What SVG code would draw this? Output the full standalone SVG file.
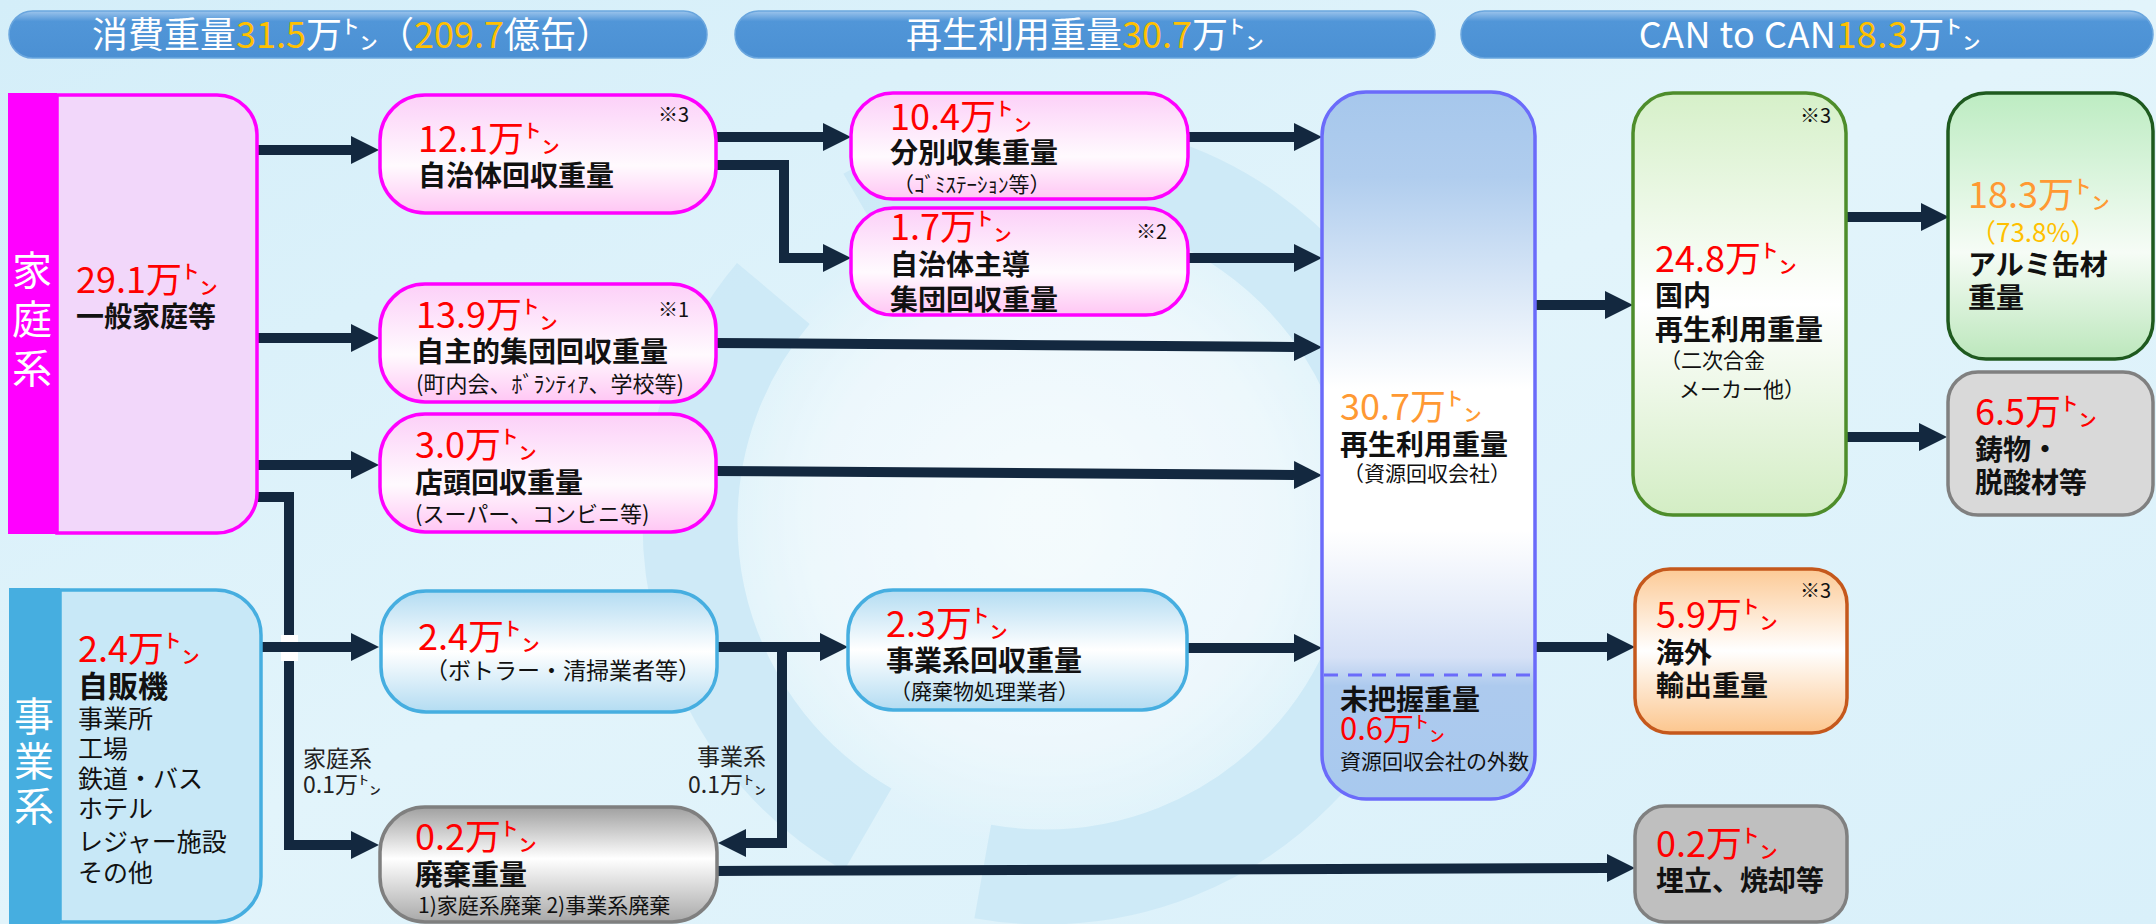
<svg xmlns="http://www.w3.org/2000/svg" width="2156" height="924" viewBox="0 0 2156 924">
<style>
text{font-family:"Noto Sans CJK JP","Noto Sans",sans-serif}
.num{font-size:36px;fill:#ff0000;font-weight:400}
.org{font-size:36px;fill:#ff9933;font-weight:400}
.lbl{font-size:28px;font-weight:700;fill:#111}
.sub{font-size:22px;fill:#111;font-weight:400}
.reg{font-size:25px;fill:#111;font-weight:400}
.note{font-size:20px;fill:#111}
.hdr{font-size:36px;fill:#ffffff}
.yel{fill:#ffc000}
.vt{font-size:40px;fill:#ffffff;writing-mode:vertical-rl}
.cl{font-size:23px;fill:#222}
.conn{fill:none;stroke:#13283f;stroke-width:10;marker-end:url(#ah)}
.pink{fill:url(#gPink);stroke:#ff00ff;stroke-width:3.5}
.blu{fill:url(#gBlue);stroke:#46aee0;stroke-width:3.5}
</style>
<defs>
<linearGradient id="bg" x1="0" y1="0" x2="1" y2="1">
<stop offset="0" stop-color="#d4eef9"/><stop offset="0.5" stop-color="#e2f4fb"/><stop offset="1" stop-color="#d9f0fa"/>
</linearGradient>
<radialGradient id="glow" cx="0.5" cy="0.5" r="0.5">
<stop offset="0" stop-color="#ffffff" stop-opacity="0.95"/><stop offset="0.7" stop-color="#ffffff" stop-opacity="0.6"/><stop offset="1" stop-color="#ffffff" stop-opacity="0"/>
</radialGradient>
<linearGradient id="gHdr" x1="0" y1="0" x2="0" y2="1">
<stop offset="0" stop-color="#9cc4ec"/><stop offset="0.22" stop-color="#5196d8"/><stop offset="1" stop-color="#4b90d3"/>
</linearGradient>
<linearGradient id="gPink" x1="0" y1="0" x2="0" y2="1">
<stop offset="0" stop-color="#fcd0f8"/><stop offset="0.6" stop-color="#fffafe"/><stop offset="1" stop-color="#ffc6f4"/>
</linearGradient>
<linearGradient id="gBlue" x1="0" y1="0" x2="0" y2="1">
<stop offset="0" stop-color="#b3dcf2"/><stop offset="0.5" stop-color="#ffffff"/><stop offset="1" stop-color="#b3dcf2"/>
</linearGradient>
<linearGradient id="gGray" x1="0" y1="0" x2="0" y2="1">
<stop offset="0" stop-color="#a0a0a0"/><stop offset="0.45" stop-color="#ffffff"/><stop offset="1" stop-color="#a8a8a8"/>
</linearGradient>
<linearGradient id="gBig" x1="0" y1="0" x2="0" y2="1">
<stop offset="0" stop-color="#a6c7ec"/><stop offset="0.12" stop-color="#b0cdee"/><stop offset="0.42" stop-color="#ffffff"/><stop offset="0.62" stop-color="#ffffff"/><stop offset="0.8" stop-color="#d6e1f6"/><stop offset="0.84" stop-color="#adcaee"/><stop offset="1" stop-color="#a8c9ee"/>
</linearGradient>
<linearGradient id="gGreen1" x1="0" y1="0" x2="0" y2="1">
<stop offset="0" stop-color="#d6f0c9"/><stop offset="0.5" stop-color="#ffffff"/><stop offset="1" stop-color="#d3edc4"/>
</linearGradient>
<linearGradient id="gGreen2" x1="0" y1="0" x2="0" y2="1">
<stop offset="0" stop-color="#bdecc2"/><stop offset="0.6" stop-color="#f6fcf6"/><stop offset="1" stop-color="#bce7bc"/>
</linearGradient>
<linearGradient id="gOrange" x1="0" y1="0" x2="0" y2="1">
<stop offset="0" stop-color="#fcca96"/><stop offset="0.5" stop-color="#ffffff"/><stop offset="1" stop-color="#fcc68e"/>
</linearGradient>
<marker id="ah" markerUnits="userSpaceOnUse" markerWidth="28" markerHeight="28" refX="0" refY="14" orient="auto">
<path d="M0,0 L28,14 L0,28 Z" fill="#13283f"/>
</marker>
</defs>

<rect x="0" y="0" width="2156" height="924" fill="url(#bg)"/>
<g id="watermark" opacity="0.7">
<circle cx="1045" cy="522" r="330" fill="url(#glow)"/>
<circle cx="1045" cy="522" r="355" fill="none" stroke="#c8e7f6" stroke-width="95" stroke-dasharray="620 123"/>
</g>

<g id="header1">
<rect x="9" y="11" width="698" height="47" rx="23.5" fill="url(#gHdr)" stroke="#6aa6de" stroke-width="1.5"/>
<text class="hdr" x="352" y="48" text-anchor="middle">消費重量<tspan class="yel">31.5</tspan>万㌧（<tspan class="yel">209.7</tspan>億缶）</text>
</g>
<g id="header2">
<rect x="735" y="11" width="700" height="47" rx="23.5" fill="url(#gHdr)" stroke="#6aa6de" stroke-width="1.5"/>
<text class="hdr" x="1085" y="48" text-anchor="middle">再生利用重量<tspan class="yel">30.7</tspan>万㌧</text>
</g>
<g id="header3">
<rect x="1461" y="11" width="692" height="47" rx="23.5" fill="url(#gHdr)" stroke="#6aa6de" stroke-width="1.5"/>
<text class="hdr" x="1810" y="48" text-anchor="middle" letter-spacing="0.5">CAN to CAN<tspan class="yel">18.3</tspan>万㌧</text>
</g>

<g id="connectors">
<path class="conn" d="M255,150 H351"/>
<path class="conn" d="M255,338 H351"/>
<path class="conn" d="M255,465 H351"/>
<path class="conn" d="M250,497 H289 V845 H351"/>
<rect x="281" y="635" width="17" height="26" fill="#ffffff"/>
<path class="conn" d="M259,647 H351"/>
<path class="conn" d="M714,137 H823"/>
<path class="conn" d="M714,165 H784 V258 H823"/>
<path class="conn" d="M1186,137 H1294"/>
<path class="conn" d="M1186,258 H1294"/>
<path class="conn" d="M714,343 L1294,347"/>
<path class="conn" d="M714,471 L1294,475"/>
<path class="conn" d="M714,647 H820"/>
<path class="conn" d="M782,643 V843 H746"/>
<path class="conn" d="M1185,648 H1294"/>
<path class="conn" d="M714,871 L1607,868"/>
<path class="conn" d="M1533,305 H1605"/>
<path class="conn" d="M1533,647 H1607"/>
<path class="conn" d="M1844,217 H1921"/>
<path class="conn" d="M1844,437 H1919"/>
<text class="cl" x="303" y="767">家庭系<tspan x="303" y="793">0.1万㌧</tspan></text>
<text class="cl" x="766" y="765" text-anchor="end">事業系<tspan x="766" y="793">0.1万㌧</tspan></text>
</g>

<g id="node-household">
<path d="M57,95 H217 A40,40 0 0 1 257,135 V493 A40,40 0 0 1 217,533 H57 Z" fill="#f2d7fa" stroke="#ff00ff" stroke-width="3.5"/>
<rect x="8" y="93" width="49" height="441" fill="#ff00ff"/>
<text class="vt" x="32" y="250" letter-spacing="9">家庭系</text>
<text x="76" y="293"><tspan class="num">29.1万㌧</tspan><tspan class="lbl" x="76" y="327">一般家庭等</tspan></text>
</g>

<g id="node-business">
<path d="M60,590 H216 A45,45 0 0 1 261,635 V877 A45,45 0 0 1 216,922 H60 Z" fill="#c8e8f7" stroke="#46aee0" stroke-width="3.5"/>
<rect x="9" y="588" width="51" height="336" fill="#46aee0"/>
<text class="vt" x="34" y="696" letter-spacing="5">事業系</text>
<text x="78" y="662"><tspan class="num">2.4万㌧</tspan><tspan class="lbl" x="78" y="697" style="font-size:30px">自販機</tspan><tspan class="reg" x="78" y="728">事業所</tspan><tspan class="reg" x="78" y="758">工場</tspan><tspan class="reg" x="78" y="788">鉄道・バス</tspan><tspan class="reg" x="78" y="818">ホテル</tspan><tspan class="reg" x="78" y="851">レジャー施設</tspan><tspan class="reg" x="78" y="882">その他</tspan></text>
</g>

<g id="node-municipal">
<rect class="pink" x="380" y="95" width="336" height="118" rx="45"/>
<text x="418" y="152"><tspan class="num">12.1万㌧</tspan><tspan class="lbl" x="418" y="186">自治体回収重量</tspan></text>
<text class="note" x="658" y="122">※3</text>
</g>
<g id="node-group">
<rect class="pink" x="380" y="284" width="336" height="118" rx="45"/>
<text x="416" y="328"><tspan class="num">13.9万㌧</tspan><tspan class="lbl" x="416" y="362">自主的集団回収重量</tspan><tspan class="sub" x="416" y="392">(町内会、ﾎﾞﾗﾝﾃｨｱ、学校等)</tspan></text>
<text class="note" x="658" y="317">※1</text>
</g>
<g id="node-store">
<rect class="pink" x="380" y="414" width="336" height="118" rx="45"/>
<text x="415" y="458"><tspan class="num">3.0万㌧</tspan><tspan class="lbl" x="415" y="493">店頭回収重量</tspan><tspan class="sub" x="415" y="522">(スーパー、コンビニ等)</tspan></text>
</g>
<g id="node-bottler">
<rect class="blu" x="381" y="591" width="336" height="121" rx="45"/>
<text x="418" y="650"><tspan class="num">2.4万㌧</tspan><tspan class="sub" x="425" y="679" style="font-size:23px">（ボトラー・清掃業者等）</tspan></text>
</g>
<g id="node-waste">
<rect x="380" y="807" width="337" height="115" rx="45" fill="url(#gGray)" stroke="#7f7f7f" stroke-width="3.5"/>
<text x="415" y="850"><tspan class="num">0.2万㌧</tspan><tspan class="lbl" x="415" y="885">廃棄重量</tspan><tspan class="sub" x="418" y="913" style="font-size:21px">1)家庭系廃棄 2)事業系廃棄</tspan></text>
</g>

<g id="node-sorted">
<rect class="pink" x="851" y="93" width="337" height="106" rx="42"/>
<text x="890" y="130"><tspan class="num">10.4万㌧</tspan><tspan class="lbl" x="890" y="163">分別収集重量</tspan><tspan class="sub" x="893" y="192" style="font-size:21px">（ｺﾞﾐｽﾃｰｼｮﾝ等）</tspan></text>
</g>
<g id="node-muni-group">
<rect class="pink" x="851" y="208" width="337" height="107" rx="42"/>
<text x="890" y="240"><tspan class="num">1.7万㌧</tspan><tspan class="lbl" x="890" y="275">自治体主導</tspan><tspan class="lbl" x="890" y="310">集団回収重量</tspan></text>
<text class="note" x="1136" y="239">※2</text>
</g>
<g id="node-bizcollect">
<rect class="blu" x="848" y="590" width="339" height="120" rx="45"/>
<text x="886" y="637"><tspan class="num">2.3万㌧</tspan><tspan class="lbl" x="886" y="671">事業系回収重量</tspan><tspan class="sub" x="890" y="699" style="font-size:21px">（廃棄物処理業者）</tspan></text>
</g>

<g id="node-recycler">
<rect x="1322" y="92" width="213" height="707" rx="44" fill="url(#gBig)" stroke="#6b6bfa" stroke-width="3.5"/>
<line x1="1324" y1="675" x2="1533" y2="675" stroke="#6b6bfa" stroke-width="3" stroke-dasharray="14 10"/>
<text x="1340" y="420"><tspan class="org">30.7万㌧</tspan><tspan class="lbl" x="1340" y="455">再生利用重量</tspan><tspan class="sub" x="1343" y="481" style="font-size:21px">（資源回収会社）</tspan></text>
<text x="1340" y="710"><tspan class="lbl">未把握重量</tspan><tspan class="num" x="1340" y="740" style="font-size:31px">0.6万㌧</tspan><tspan class="sub" x="1340" y="769" style="font-size:21px">資源回収会社の外数</tspan></text>
</g>

<g id="node-domestic">
<rect x="1633" y="93" width="213" height="422" rx="40" fill="url(#gGreen1)" stroke="#4e8d2b" stroke-width="3.5"/>
<text class="note" x="1800" y="123">※3</text>
<text x="1655" y="272"><tspan class="num">24.8万㌧</tspan><tspan class="lbl" x="1655" y="306">国内</tspan><tspan class="lbl" x="1655" y="340">再生利用重量</tspan><tspan class="sub" x="1660" y="368" style="font-size:21px">（二次合金</tspan><tspan class="sub" x="1679" y="397" style="font-size:21px">メーカー他）</tspan></text>
</g>
<g id="node-export">
<rect x="1635" y="569" width="212" height="164" rx="35" fill="url(#gOrange)" stroke="#c5581c" stroke-width="3.5"/>
<text class="note" x="1800" y="598">※3</text>
<text x="1656" y="628"><tspan class="num">5.9万㌧</tspan><tspan class="lbl" x="1656" y="663">海外</tspan><tspan class="lbl" x="1656" y="696">輸出重量</tspan></text>
</g>
<g id="node-landfill">
<rect x="1635" y="806" width="212" height="116" rx="30" fill="#bfbfbf" stroke="#808080" stroke-width="3.5"/>
<text x="1656" y="857"><tspan class="num">0.2万㌧</tspan><tspan class="lbl" x="1656" y="891">埋立、焼却等</tspan></text>
</g>
<g id="node-can">
<rect x="1948" y="93" width="205" height="266" rx="38" fill="url(#gGreen2)" stroke="#1f5a1f" stroke-width="3.5"/>
<text x="1968" y="208"><tspan class="org">18.3万㌧</tspan><tspan x="1970" y="242" style="font-size:26px;fill:#ffc000">（73.8%）</tspan><tspan class="lbl" x="1968" y="275">アルミ缶材</tspan><tspan class="lbl" x="1968" y="308">重量</tspan></text>
</g>
<g id="node-casting">
<rect x="1948" y="372" width="205" height="143" rx="30" fill="#d9d9d9" stroke="#808080" stroke-width="3.5"/>
<text x="1975" y="425"><tspan class="num">6.5万㌧</tspan><tspan class="lbl" x="1975" y="460">鋳物・</tspan><tspan class="lbl" x="1975" y="493">脱酸材等</tspan></text>
</g>
</svg>
